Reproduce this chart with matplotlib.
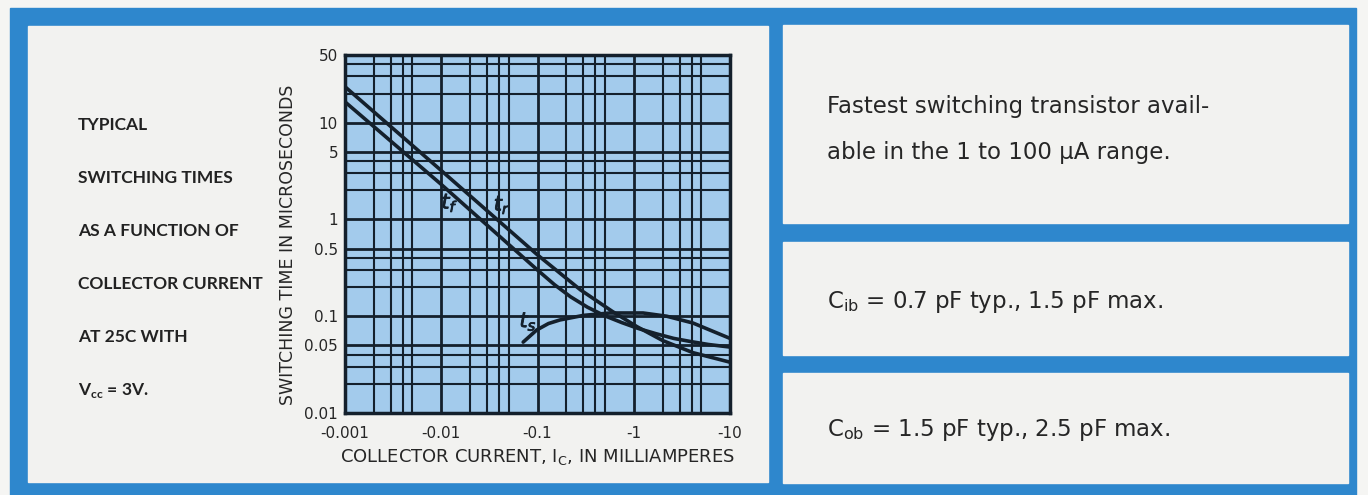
import matplotlib
matplotlib.use("Agg")
import matplotlib.pyplot as plt
import matplotlib.patheffects as pe
from matplotlib.patches import Rectangle
from matplotlib.ticker import LogLocator, NullFormatter

# 读图得到的曲线点（|Ic| mA, 开关时间 µs）
tr_current = [0.001, 0.01, 0.1, 0.17, 0.28, 0.6, 1.08, 2.0, 4.13, 10]
tr_time = [23.5, 3.2, 0.43, 0.28, 0.187, 0.112, 0.078, 0.056, 0.042, 0.0335]

tf_current = [0.001, 0.01, 0.1, 0.15, 0.22, 0.33, 0.5, 0.75, 1.1, 1.7, 2.6, 4.0, 6.0, 10]
tf_time = [16.4, 2.3, 0.30, 0.212, 0.159, 0.124, 0.101, 0.086, 0.075, 0.066, 0.059,
           0.0545, 0.051, 0.048]

ts_current = [0.071, 0.098, 0.13, 0.171, 0.3, 0.567, 1.25, 2.2, 4.13, 10]
ts_time = [0.054, 0.072, 0.084, 0.0915, 0.102, 0.108, 0.108, 0.1, 0.085, 0.059]

x_ticks = [0.001, 0.01, 0.1, 1, 10]
x_labels = ["-0.001", "-0.01", "-0.1", "-1", "-10"]
y_ticks = [0.01, 0.05, 0.1, 0.5, 1, 5, 10, 50]
y_labels = ["0.01", "0.05", "0.1", "0.5", "1", "5", "10", "50"]

left_lines = ["TYPICAL", "SWITCHING TIMES", "AS A FUNCTION OF",
              "COLLECTOR CURRENT", "AT 25C WITH", r"V$_{\mathregular{cc}}$ = 3V."]
note_lines = ["Fastest switching transistor avail-", "able in the 1 to 100 \u00b5A range."]
cib_text = r"C$_{\mathregular{ib}}$ = 0.7 pF typ., 1.5 pF max."
cob_text = r"C$_{\mathregular{ob}}$ = 1.5 pF typ., 2.5 pF max."

BLUE = "#2e87cd"
PANEL = "#f2f2f0"
PLOT_BG = "#a3cbec"
INK = "#14202c"
TEXT = "#262626"
W, H = 1368, 495

fig = plt.figure(figsize=(W / 100, H / 100), dpi=100)
fig.patch.set_facecolor("#f5f5f3")

# 背景层：像素坐标
bg = fig.add_axes([0, 0, 1, 1], zorder=0)
bg.set_xlim(0, W)
bg.set_ylim(H, 0)
bg.axis("off")
bg.add_patch(Rectangle((10, 8), 1346, 490, color=BLUE))
bg.add_patch(Rectangle((28, 26), 740, 456, color=PANEL))
bg.add_patch(Rectangle((783, 25), 565, 198, color=PANEL))
bg.add_patch(Rectangle((783, 242), 565, 113, color=PANEL))
bg.add_patch(Rectangle((783, 373), 565, 110, color=PANEL))

narrow = ["Liberation Sans Narrow", "Lato", "DejaVu Sans"]
for i, line in enumerate(left_lines):
    bg.text(78, 125 + i * 53, line, fontsize=12.5, fontweight="bold", family=narrow,
            color="#222222", va="center", ha="left")

for i, line in enumerate(note_lines):
    bg.text(827, 107 + i * 46, line, fontsize=16.5, color=TEXT, va="center", ha="left")
bg.text(827, 302, cib_text, fontsize=16.5, color=TEXT, va="center", ha="left")
bg.text(827, 430, cob_text, fontsize=16.5, color=TEXT, va="center", ha="left")

# 图表
ax = fig.add_axes([345 / W, 1 - 413 / H, 385 / W, 358 / H], zorder=2)
ax.set_facecolor(PLOT_BG)
ax.set_xscale("log")
ax.set_yscale("log")
ax.set_xlim(0.001, 10)
ax.set_ylim(0.01, 50)

# 原图每个十倍程只有 2,3,4,5 的细格线
ax.xaxis.set_minor_locator(LogLocator(base=10, subs=[2, 3, 4, 5], numticks=20))
ax.yaxis.set_minor_locator(LogLocator(base=10, subs=[2, 3, 4, 5], numticks=20))
ax.xaxis.set_minor_formatter(NullFormatter())
ax.yaxis.set_minor_formatter(NullFormatter())
ax.set_xticks(x_ticks)
ax.set_xticklabels(x_labels)
ax.set_yticks(y_ticks)
ax.set_yticklabels(y_labels)
ax.tick_params(which="both", length=0, labelsize=11, colors=TEXT)
ax.tick_params(axis="x", pad=9)
ax.tick_params(axis="y", pad=5)

ax.grid(which="major", color=INK, linewidth=2.0)
ax.grid(which="minor", color=INK, linewidth=1.5)
for s in ax.spines.values():
    s.set_linewidth(2.5)
    s.set_color(INK)

for xs, ys in ((tr_current, tr_time), (tf_current, tf_time), (ts_current, ts_time)):
    ax.plot(xs, ys, color=INK, linewidth=2.6, solid_capstyle="round",
            solid_joinstyle="round", zorder=3)

thick = [pe.withStroke(linewidth=0.6, foreground=INK)]
ax.text(0.0123, 1.48, r"$t_f$", fontsize=15, color=INK, ha="center", va="center",
        zorder=5, path_effects=thick)
ax.text(0.043, 1.41, r"$t_r$", fontsize=15, color=INK, ha="center", va="center",
        zorder=5, path_effects=thick)
ax.text(0.08, 0.088, r"$t_s$", fontsize=15, color=INK, ha="center", va="center",
        zorder=5, path_effects=thick)

ax.set_ylabel("SWITCHING TIME IN MICROSECONDS", fontsize=12.5, color=TEXT, labelpad=5)
ax.yaxis.label.set_y(0.47)
ax.set_xlabel(r"COLLECTOR CURRENT, I$_{\mathregular{C}}$, IN MILLIAMPERES",
              fontsize=13, color=TEXT, labelpad=5)

fig.savefig("out.png", dpi=100, facecolor=fig.get_facecolor())
